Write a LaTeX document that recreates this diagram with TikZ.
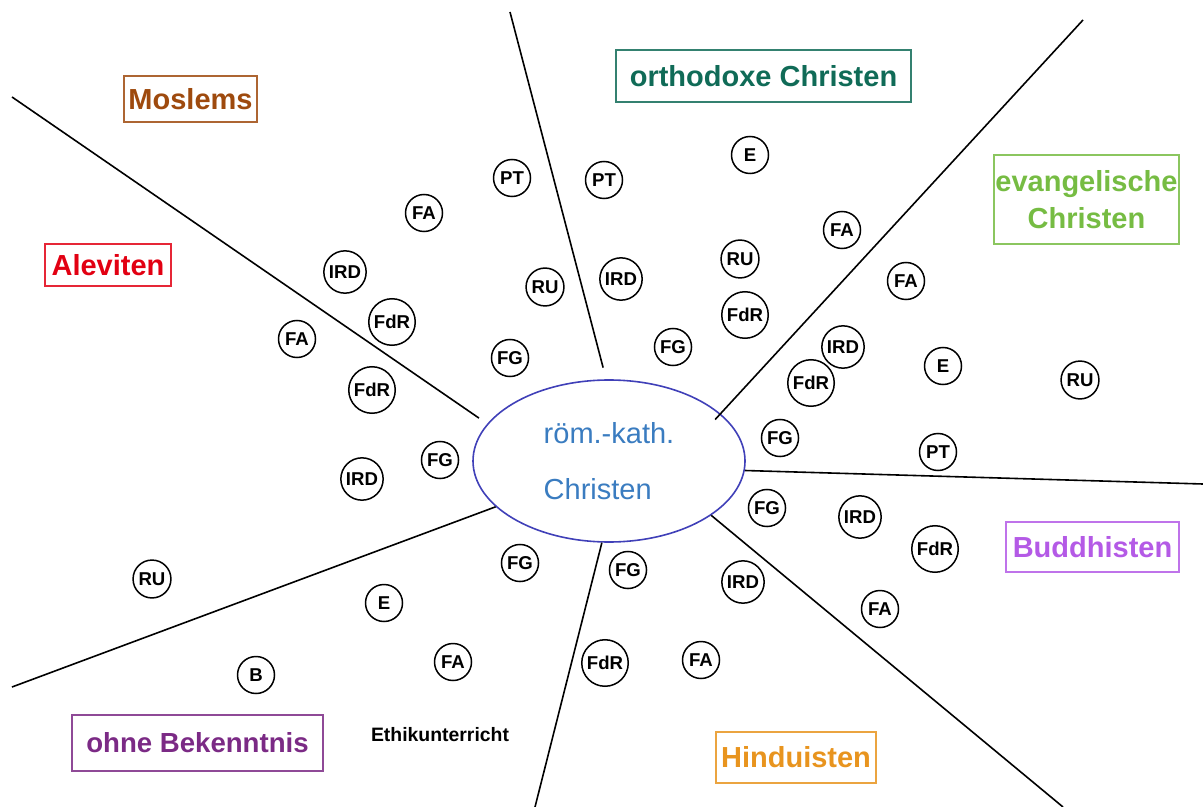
\documentclass[tikz,border=0pt]{standalone}
\usepackage{fontspec}
\setmainfont{Liberation Sans}
\usepackage{xcolor}
\usepackage{tikz}
\usetikzlibrary{shapes.geometric}
\definecolor{muslimbrown}{RGB}{158,74,14}
\definecolor{alevired}{RGB}{226,0,18}
\definecolor{orthoteal}{RGB}{16,107,87}
\definecolor{evangreen}{RGB}{118,188,67}
\definecolor{buddhaviolet}{RGB}{180,90,230}
\definecolor{hinduorange}{RGB}{232,148,30}
\definecolor{nonepurple}{RGB}{123,42,133}
\definecolor{kathblue}{RGB}{58,124,192}
\definecolor{ringblue}{RGB}{64,64,184}

\begin{document}
\begin{tikzpicture}[
  x=0.5pt, y=-0.5pt,
  tag/.style={circle, draw, line width=0.75pt, inner sep=1.5pt,
    minimum size=18.5pt, font=\bfseries\fontsize{9.3}{11}\selectfont},
  group/.style={draw=#1!85, text=#1, line width=0.8pt, inner sep=0pt,
    font=\bfseries\fontsize{14.5}{18.5}\selectfont, align=center},
  divider/.style={line width=0.8pt}
]
\useasboundingbox (0,0) rectangle (1203,807);

% centre
\node[ellipse, draw=ringblue, line width=0.8pt, minimum width=136pt,
      minimum height=81pt, inner sep=0pt, text=kathblue, align=left,
      font=\fontsize{14.5}{28}\selectfont] (kath) at (609,461)
      {röm.-kath.\\Christen};

% sector borders
\coordinate (bdA) at (12,97);
\coordinate (bdB) at (510,12);
\coordinate (bdC) at (1083,20);
\coordinate (bdD) at (1203,484);
\coordinate (bdE) at (1063,807);
\coordinate (bdF) at (535,807);
\coordinate (bdG) at (12,687);
\draw[divider, shorten >=5pt] (bdA) -- (kath.163.4);
\draw[divider, shorten >=6pt] (bdB) -- (kath.92.4);
\draw[divider, shorten >=-4pt] (bdC) -- (kath.23.2);
\draw[divider] (bdD) -- (kath.-4.9);
\draw[divider] (bdE) -- (kath.-28.5);
\draw[divider] (bdF) -- (kath.265.9);
\draw[divider] (bdG) -- (kath.202.8);

% groups
\node[group=muslimbrown, minimum width=66.5pt, minimum height=23pt]
  (moslems) at (190.5,99) {Moslems};
\node[group=alevired, minimum width=63pt, minimum height=21pt]
  (aleviten) at (108,265) {Aleviten};
\node[group=orthoteal, minimum width=147.5pt, minimum height=26pt]
  (ortho) at (763.5,76) {orthodoxe Christen};
\node[group=evangreen, minimum width=92.5pt, minimum height=44.5pt]
  (evang) at (1086.5,199.5) {evangelische\\Christen};
\node[group=buddhaviolet, minimum width=86.5pt, minimum height=25pt]
  (buddh) at (1092.5,547) {Buddhisten};
\node[group=hinduorange, minimum width=80pt, minimum height=25.5pt]
  (hindu) at (796,757.5) {Hinduisten};
\node[group=nonepurple, minimum width=125.5pt, minimum height=28pt,
      font=\bfseries\fontsize{13.8}{16}\selectfont]
  (ohne) at (197.5,743) {ohne Bekenntnis};
\node[font=\bfseries\fontsize{9.7}{12}\selectfont] (ethik) at (440,735)
  {Ethikunterricht};

% Moslems
\node[tag] (mPT)  at (512,178) {PT};
\node[tag] (mFA)  at (424,213) {FA};
\node[tag] (mIRD) at (345,272) {IRD};
\node[tag] (mFdR) at (392,322) {FdR};
\node[tag] (mRU)  at (545,287) {RU};
\node[tag] (mFG)  at (510,358) {FG};
% Aleviten
\node[tag] (aFA)  at (297,339) {FA};
\node[tag] (aFdR) at (372,390) {FdR};
\node[tag] (aFG)  at (440,460) {FG};
\node[tag] (aIRD) at (362,479) {IRD};
\node[tag] (aRU)  at (152,579) {RU};
% orthodoxe Christen
\node[tag] (oPT)  at (604,180) {PT};
\node[tag] (oE)   at (750,155) {E};
\node[tag] (oIRD) at (621,279) {IRD};
\node[tag] (oRU)  at (740,259) {RU};
\node[tag] (oFdR) at (745,315) {FdR};
\node[tag] (oFG)  at (673,347) {FG};
\node[tag] (oFA)  at (842,230) {FA};
% evangelische Christen
\node[tag] (eFA)  at (906,281) {FA};
\node[tag] (eIRD) at (843,347) {IRD};
\node[tag] (eFdR) at (811,383) {FdR};
\node[tag] (eE)   at (943,366) {E};
\node[tag] (eRU)  at (1080,380) {RU};
\node[tag] (eFG)  at (780,438) {FG};
\node[tag] (ePT)  at (938,452) {PT};
% Buddhisten
\node[tag] (bFG)  at (767,508) {FG};
\node[tag] (bIRD) at (860,517) {IRD};
\node[tag] (bFdR) at (935,549) {FdR};
\node[tag] (bFA)  at (880,609) {FA};
% Hinduisten
\node[tag] (hIRD) at (743,582) {IRD};
\node[tag] (hFG)  at (628,570) {FG};
\node[tag] (hFdR) at (605,663) {FdR};
\node[tag] (hFA)  at (701,660) {FA};
% ohne Bekenntnis
\node[tag] (nFG)  at (520,563) {FG};
\node[tag] (nE)   at (384,603) {E};
\node[tag] (nFA)  at (453,662) {FA};
\node[tag] (nB)   at (256,675) {B};
\end{tikzpicture}
\end{document}
